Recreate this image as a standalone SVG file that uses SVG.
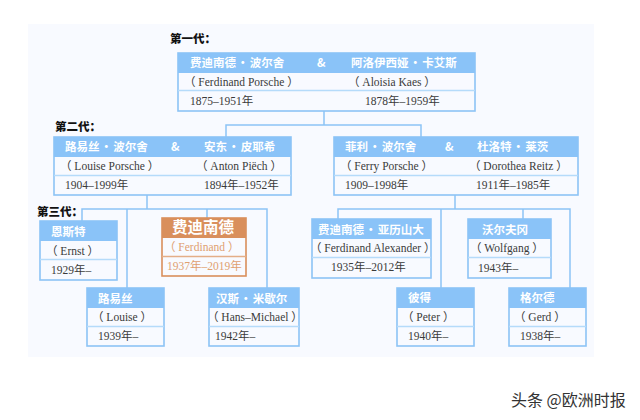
<svg xmlns="http://www.w3.org/2000/svg" width="640" height="420" viewBox="0 0 640 420">
<style>
text{font-family:"Liberation Serif","Noto Sans CJK SC",serif;font-size:11.5px;fill:#3a3a3a}
.b{fill:#f8faff;stroke:#8cc4f6;stroke-width:1.6}
.h{fill:#8ac3f8}
.d{stroke:#b5dbfa;stroke-width:1.4;fill:none}
.t{font-family:"Noto Sans CJK SC",sans-serif;font-size:11.5px;font-weight:700;fill:#fff;word-spacing:-1.5px}
.g{font-family:"Noto Sans CJK SC",sans-serif;font-size:11.5px;font-weight:900;fill:#111}
.c{fill:none;stroke:#8cc4f6;stroke-width:1.5}
.ob{fill:#f8faff;stroke:#d98f5c;stroke-width:1.6}
.oh{fill:#d98f5c}
.od{stroke:#e4ae88;stroke-width:1.4;fill:none}
.o{fill:#e0a070}
.w{font-family:"Noto Sans CJK SC",sans-serif;font-size:16px;fill:#333}
</style>
<rect width="640" height="420" fill="#fff"/>
<rect x="28" y="24" width="566" height="333" fill="#f8faff"/>
<g id="connectors">
<path class="c" d="M324 111V125M226 137V125H421V137"/>
<path class="c" d="M147 195V209M82 221V209H267V288M127 209V288M207 209V218"/>
<path class="c" d="M455 195V209M338 219V209H570V288M441 209V288M523 209V219"/>
</g>
<g id="labels">
<text class="g" x="170" y="43">第一代：</text>
<text class="g" x="55" y="131">第二代：</text>
<text class="g" x="37" y="216">第三代：</text>
</g>
<g id="gen1">
<rect class="b" x="178" y="53" width="297" height="58"/><rect class="h" x="178" y="53" width="297" height="20"/>
<path class="d" d="M178 90.500H475"/>
<text class="t" x="190" y="67">费迪南德 · 波尔舍</text><text class="t" x="317" y="67">&amp;</text><text class="t" x="351" y="67">阿洛伊西娅 · 卡艾斯</text>
<text x="184" y="86">（ Ferdinand Porsche ）</text><text x="348" y="86">（ Aloisia Kaes ）</text>
<text x="190" y="105">1875–1951年</text><text x="365" y="105">1878年–1959年</text>
</g>
<g id="gen2-left">
<rect class="b" x="54" y="137" width="237" height="58"/><rect class="h" x="54" y="137" width="237" height="20"/>
<path class="d" d="M54 175.500H291"/>
<text class="t" x="65" y="151">路易丝 · 波尔舍</text><text class="t" x="171" y="151">&amp;</text><text class="t" x="204" y="151">安东 · 皮耶希</text>
<text x="60" y="170">（ Louise Porsche ）</text><text x="196" y="170">（ Anton Piëch ）</text>
<text x="65" y="189">1904–1999年</text><text x="204" y="189">1894年–1952年</text>
</g>
<g id="gen2-right">
<rect class="b" x="334" y="137" width="244" height="58"/><rect class="h" x="334" y="137" width="244" height="20"/>
<path class="d" d="M334 175.500H578"/>
<text class="t" x="345" y="151">菲利 · 波尔舍</text><text class="t" x="445" y="151">&amp;</text><text class="t" x="477" y="151">杜洛特 · 莱茨</text>
<text x="340" y="170">（ Ferry Porsche ）</text><text x="469" y="170">（ Dorothea Reitz ）</text>
<text x="345" y="189">1909–1998年</text><text x="476" y="189">1911年–1985年</text>
</g>
<g id="ernst">
<rect class="b" x="40" y="221" width="77" height="59"/><rect class="h" x="40" y="221" width="77" height="20"/>
<path class="d" d="M40 259.500H117"/>
<text class="t" x="51" y="236">恩斯特</text><text x="46" y="255">（ Ernst ）</text><text x="51" y="274">1929年–</text>
</g>
<g id="louise">
<rect class="b" x="87" y="288" width="77" height="58"/><rect class="h" x="87" y="288" width="77" height="20"/>
<path class="d" d="M87 326.500H164"/>
<text class="t" x="98" y="303">路易丝</text><text x="92" y="321">（ Louise ）</text><text x="98" y="340">1939年–</text>
</g>
<g id="ferdinand">
<rect class="ob" x="162" y="218" width="84" height="58"/><rect class="oh" x="162" y="218" width="84" height="20"/>
<path class="od" d="M162 256.500H246"/>
<text class="t" x="172" y="233" style="font-size:15.500px">费迪南德</text><text class="o" x="164" y="251">（ Ferdinand ）</text><text class="o" x="167" y="270">1937年–2019年</text>
</g>
<g id="hans">
<rect class="b" x="209" y="288" width="90" height="58"/><rect class="h" x="209" y="288" width="90" height="20"/>
<path class="d" d="M209 326.500H299"/>
<text class="t" x="216" y="303">汉斯 · 米歇尔</text><text x="207" y="321">（ Hans–Michael ）</text><text x="215" y="340">1942年–</text>
</g>
<g id="alexander">
<rect class="b" x="312" y="219" width="119" height="59"/><rect class="h" x="312" y="219" width="119" height="20"/>
<path class="d" d="M312 257.500H431"/>
<text class="t" x="318" y="234">费迪南德 · 亚历山大</text><text x="310" y="252">（ Ferdinand Alexander ）</text><text x="331" y="271">1935年–2012年</text>
</g>
<g id="wolfgang">
<rect class="b" x="468" y="219" width="83" height="59"/><rect class="h" x="468" y="219" width="83" height="20"/>
<path class="d" d="M468 257.500H551"/>
<text class="t" x="482" y="234">沃尔夫冈</text><text x="470" y="252">（ Wolfgang ）</text><text x="478" y="272">1943年–</text>
</g>
<g id="peter">
<rect class="b" x="397" y="288" width="77" height="58"/><rect class="h" x="397" y="288" width="77" height="20"/>
<path class="d" d="M397 326.500H474"/>
<text class="t" x="408" y="302">彼得</text><text x="402" y="321">（ Peter ）</text><text x="408" y="340">1940年–</text>
</g>
<g id="gerd">
<rect class="b" x="509" y="288" width="77" height="58"/><rect class="h" x="509" y="288" width="77" height="20"/>
<path class="d" d="M509 326.500H586"/>
<text class="t" x="520" y="302">格尔德</text><text x="514" y="321">（ Gerd ）</text><text x="520" y="340">1938年–</text>
</g>
<text class="w" x="511" y="406">头条 @欧洲时报</text>
</svg>
